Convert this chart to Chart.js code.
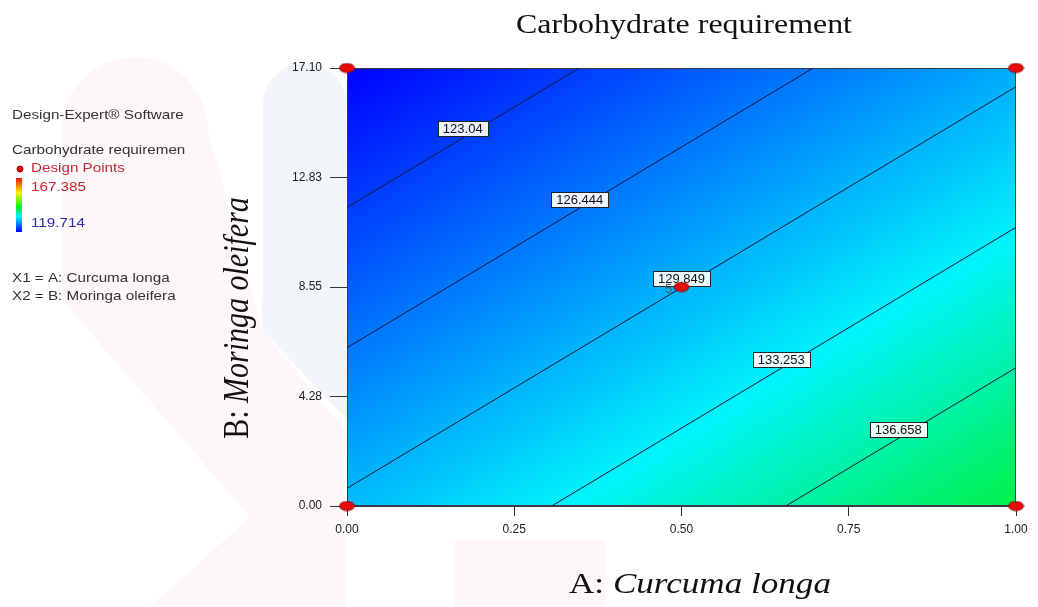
<!DOCTYPE html>
<html>
<head>
<meta charset="utf-8">
<script src="https://cdn.jsdelivr.net/npm/chart.js@4.4.0/dist/chart.umd.min.js"></script>
<style>
  html, body { margin: 0; padding: 0; background: #fff; }
  #wrap { width: 1038px; height: 607px; position: relative; }
</style>
</head>
<body>
<div id="wrap"><canvas id="contourChart"></canvas></div>
<script>
// ---- data ----
const xTicks = [0, 0.25, 0.5, 0.75, 1];
const yTicks = [0, 4.28, 8.55, 12.83, 17.1];

// design points (A: Curcuma longa, B: Moringa oleifera)
const designA = [0, 0, 1, 1, 0.5];
const designB = [0, 17.1, 0, 17.1, 8.55];
const centerReplicates = 5;

// contour levels and where each line meets the frame
const contourLevels = [123.04, 126.444, 129.849, 133.253, 136.658];
const contourA = [[0, 0.347], [0, 0.697], [0, 1], [0.306, 1], [0.656, 1]];
const contourB = [[11.66, 17.1], [6.18, 17.1], [0.69, 16.37], [0, 10.88], [0, 5.40]];
const labelA = [0.173, 0.348, 0.50, 0.649, 0.824];

// response surface read at a coarse grid (rows = B, cols = A)
const gridA = [0, 0.5, 1];
const gridB = [0, 8.55, 17.1];
const gridZ = [
  [130.28, 135.15, 140.01],
  [124.97, 129.84, 134.70],
  [119.71, 124.53, 129.39]
];

// legend range
const legendMax = 167.385;
const legendMin = 119.714;

// ---- styling ----
const stretch = 1.17;
const sans = '"Liberation Sans", Arial, sans-serif';
const serif = '"Liberation Serif", "Times New Roman", serif';
const colorStops = [
  [0, [0, 0, 255]],
  [0.29, [0, 245, 250]],
  [0.45, [0, 240, 40]],
  [0.73, [255, 240, 0]],
  [1, [230, 20, 20]]
];

function colorFor(z) {
  let t = (z - legendMin) / (legendMax - legendMin);
  t = Math.max(0, Math.min(1, t));
  for (let k = 0; k < colorStops.length - 1; k++) {
    const [t0, c0] = colorStops[k];
    const [t1, c1] = colorStops[k + 1];
    if (t <= t1) {
      const f = (t - t0) / (t1 - t0);
      return [0, 1, 2].map(n => Math.round(c0[n] + (c1[n] - c0[n]) * f));
    }
  }
  return colorStops[colorStops.length - 1][1];
}

function findCell(arr, v) {
  for (let i = 0; i < arr.length - 2; i++) {
    if (v <= arr[i + 1]) return i;
  }
  return arr.length - 2;
}

function surfaceAt(a, b) {
  const i = findCell(gridA, a);
  const j = findCell(gridB, b);
  const u = (a - gridA[i]) / (gridA[i + 1] - gridA[i]);
  const v = (b - gridB[j]) / (gridB[j + 1] - gridB[j]);
  return gridZ[j][i] * (1 - u) * (1 - v) + gridZ[j][i + 1] * u * (1 - v) +
         gridZ[j + 1][i] * (1 - u) * v + gridZ[j + 1][i + 1] * u * v;
}

// red ellipse used for design points
function makeEllipse(w, h) {
  const c = document.createElement('canvas');
  c.width = w + 2;
  c.height = h + 2;
  const g = c.getContext('2d');
  g.beginPath();
  g.ellipse(c.width / 2, c.height / 2, w / 2, h / 2, 0, 0, Math.PI * 2);
  g.fillStyle = '#e60a0a';
  g.fill();
  g.strokeStyle = '#9a0000';
  g.lineWidth = 1;
  g.stroke();
  return c;
}
const bigDot = makeEllipse(15, 9);

function txt(ctx, s, x, y, font, color, align, sx) {
  ctx.save();
  ctx.font = font;
  ctx.fillStyle = color;
  ctx.textAlign = align || 'left';
  ctx.textBaseline = 'middle';
  ctx.translate(x, y);
  ctx.scale(sx || stretch, 1);
  ctx.fillText(s, 0, 0);
  ctx.restore();
}

// draws parts [text, italic] one after another, centred on 0
function mixedText(ctx, parts, size) {
  let total = 0;
  const widths = parts.map(p => {
    ctx.font = (p[1] ? 'italic ' : '') + size + 'px ' + serif;
    const w = ctx.measureText(p[0]).width;
    total += w;
    return w;
  });
  let x = -total / 2;
  parts.forEach((p, i) => {
    ctx.font = (p[1] ? 'italic ' : '') + size + 'px ' + serif;
    ctx.fillText(p[0], x, 0);
    x += widths[i];
  });
}

// faint watermark behind everything
const backgroundPlugin = {
  id: 'background',
  beforeDraw(chart) {
    const ctx = chart.ctx;
    ctx.save();
    ctx.fillStyle = '#ffffff';
    ctx.fillRect(0, 0, chart.width, chart.height);

    ctx.fillStyle = 'rgba(252, 228, 228, 0.3)';
    ctx.beginPath();
    ctx.moveTo(62, 130);
    ctx.arc(135, 130, 73, Math.PI, 0);
    ctx.lineTo(262, 330);
    ctx.lineTo(345, 430);
    ctx.lineTo(345, 607);
    ctx.lineTo(150, 607);
    ctx.lineTo(250, 517);
    ctx.lineTo(62, 300);
    ctx.closePath();
    ctx.fill();

    ctx.fillStyle = 'rgba(225, 232, 240, 0.4)';
    ctx.beginPath();
    ctx.moveTo(263, 105);
    ctx.arc(305, 105, 42, Math.PI, 0);
    ctx.lineTo(347, 420);
    ctx.lineTo(262, 330);
    ctx.closePath();
    ctx.fill();

    ctx.fillStyle = 'rgba(252, 228, 228, 0.3)';
    ctx.fillRect(455, 540, 150, 67);
    ctx.restore();
  }
};

// coloured response surface and the frame
const surfacePlugin = {
  id: 'surface',
  beforeDatasetsDraw(chart) {
    const { ctx, chartArea: a, scales: { x, y } } = chart;
    const w = Math.round(a.right - a.left);
    const h = Math.round(a.bottom - a.top);
    const off = document.createElement('canvas');
    off.width = w;
    off.height = h;
    const g = off.getContext('2d');
    const img = g.createImageData(w, h);
    for (let j = 0; j < h; j++) {
      const b = y.getValueForPixel(a.top + j + 0.5);
      for (let i = 0; i < w; i++) {
        const av = x.getValueForPixel(a.left + i + 0.5);
        const c = colorFor(surfaceAt(av, b));
        const p = (j * w + i) * 4;
        img.data[p] = c[0];
        img.data[p + 1] = c[1];
        img.data[p + 2] = c[2];
        img.data[p + 3] = 255;
      }
    }
    g.putImageData(img, 0, 0);
    ctx.drawImage(off, a.left, a.top);

    ctx.save();
    ctx.strokeStyle = '#3a3a4a';
    ctx.lineWidth = 1;
    ctx.strokeRect(a.left + 0.5, a.top + 0.5, w - 1, h - 1);
    ctx.restore();
  },
  // contour labels go on top of the lines but under the design points
  afterDatasetDraw(chart, args) {
    if (args.index !== 1) return;
    const { ctx, scales: { x, y } } = chart;
    ctx.save();
    ctx.font = '13px ' + sans;
    contourLevels.forEach((lvl, k) => {
      const a0 = contourA[k][0], a1 = contourA[k][1];
      const t = (labelA[k] - a0) / (a1 - a0);
      const b = contourB[k][0] + t * (contourB[k][1] - contourB[k][0]);
      const px = x.getPixelForValue(labelA[k]);
      const py = y.getPixelForValue(b) - 9;
      const s = String(lvl);
      const tw = ctx.measureText(s).width;
      const bw = Math.round(tw + 10), bh = 15;
      const bx = Math.round(px - bw / 2) + 0.5, by = Math.round(py - bh / 2) + 0.5;
      ctx.fillStyle = 'rgba(255,255,255,0.93)';
      ctx.fillRect(bx, by, bw, bh);
      ctx.strokeStyle = '#222';
      ctx.lineWidth = 1;
      ctx.strokeRect(bx, by, bw, bh);
      ctx.fillStyle = '#111';
      ctx.textAlign = 'center';
      ctx.textBaseline = 'middle';
      ctx.fillText(s, px, py + 1);
    });
    // replicate count beside the centre point
    ctx.fillStyle = '#555';
    ctx.font = '13px ' + sans;
    ctx.textAlign = 'center';
    ctx.textBaseline = 'middle';
    ctx.fillText(String(centerReplicates), x.getPixelForValue(0.5) - 13, y.getPixelForValue(8.55) + 2);
    ctx.restore();
  }
};

// titles and the Design-Expert side panel
const textPlugin = {
  id: 'texts',
  afterDraw(chart) {
    const ctx = chart.ctx;
    ctx.save();
    ctx.fillStyle = '#111';
    ctx.textBaseline = 'alphabetic';

    // main title
    ctx.save();
    ctx.translate(684, 33);
    ctx.scale(1.14, 1);
    mixedText(ctx, [['Carbohydrate requirement', false]], 28);
    ctx.restore();

    // x axis title
    ctx.save();
    ctx.translate(700, 593);
    ctx.scale(stretch, 1);
    mixedText(ctx, [['A: ', false], ['Curcuma longa', true]], 30);
    ctx.restore();

    // y axis title
    ctx.save();
    ctx.translate(248, 318);
    ctx.rotate(-Math.PI / 2);
    ctx.scale(1, stretch);
    mixedText(ctx, [['B: ', false], ['Moringa oleifera', true]], 30);
    ctx.restore();

    // side panel
    const f = '13px ' + sans;
    txt(ctx, 'Design-Expert\u00AE Software', 12, 115, f, '#333');
    txt(ctx, 'Carbohydrate requiremen', 12, 150, f, '#333');
    ctx.drawImage(makeEllipse(6, 6), 16, 165);
    txt(ctx, 'Design Points', 31, 168, f, '#c8283c');

    const grad = ctx.createLinearGradient(0, 178, 0, 232);
    colorStops.forEach(([t, c]) => grad.addColorStop(1 - t, 'rgb(' + c.join(',') + ')'));
    ctx.fillStyle = grad;
    ctx.fillRect(16, 178, 6, 54);
    txt(ctx, String(legendMax), 31, 187, f, '#c0282c');
    txt(ctx, String(legendMin), 31, 223, f, '#2c2ca8');

    txt(ctx, 'X1 = A: Curcuma longa', 12, 278, f, '#333');
    txt(ctx, 'X2 = B: Moringa oleifera', 12, 296, f, '#333');
    ctx.restore();
  }
};

const datasets = [{
  label: 'Design Points',
  data: designA.map((v, i) => ({ x: v, y: designB[i] })),
  pointStyle: bigDot,
  pointRadius: 8,
  clip: false
}];
contourLevels.forEach((lvl, k) => {
  datasets.push({
    label: String(lvl),
    data: contourA[k].map((v, i) => ({ x: v, y: contourB[k][i] })),
    showLine: true,
    borderColor: '#15153a',
    borderWidth: 1,
    pointRadius: 0
  });
});

const ctx = document.getElementById('contourChart').getContext('2d');
new Chart(ctx, {
  type: 'scatter',
  data: { datasets: datasets },
  plugins: [backgroundPlugin, surfacePlugin, textPlugin],
  options: {
    responsive: true,
    maintainAspectRatio: false,
    animation: false,
    devicePixelRatio: 1,
    layout: { padding: { left: 0, right: 22, top: 68, bottom: 0 } },
    plugins: {
      legend: { display: false },
      tooltip: { enabled: false }
    },
    scales: {
      x: {
        type: 'linear',
        min: xTicks[0],
        max: xTicks[xTicks.length - 1],
        afterFit: s => { s.height = 101; },
        afterBuildTicks: s => { s.ticks = xTicks.map(v => ({ value: v })); },
        ticks: {
          callback: v => Number(v).toFixed(2),
          font: { family: sans, size: 12 },
          color: '#222',
          padding: 6,
          maxRotation: 0
        },
        grid: { drawOnChartArea: false, drawTicks: true, tickLength: 10, color: '#333' },
        border: { display: true, color: '#3a3a4a' }
      },
      y: {
        type: 'linear',
        min: yTicks[0],
        max: yTicks[yTicks.length - 1],
        afterFit: s => { s.width = 347; },
        afterBuildTicks: s => { s.ticks = yTicks.map(v => ({ value: v })); },
        ticks: {
          callback: v => Number(v).toFixed(2),
          font: { family: sans, size: 12 },
          color: '#222',
          padding: 8
        },
        grid: { drawOnChartArea: false, drawTicks: true, tickLength: 17, color: '#333' },
        border: { display: true, color: '#3a3a4a' }
      }
    }
  }
});
</script>
</body>
</html>
